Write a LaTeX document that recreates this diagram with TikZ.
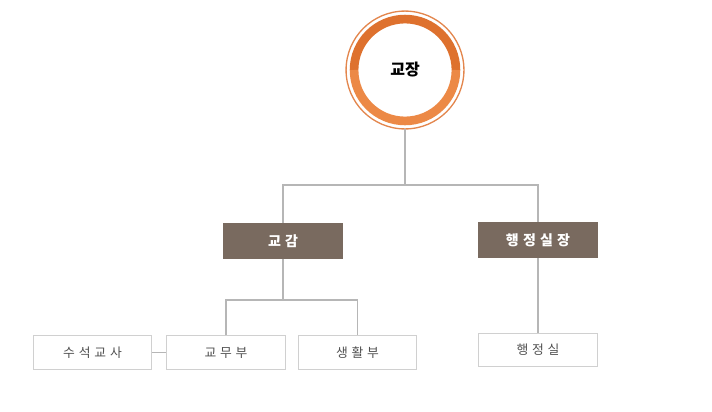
\documentclass[tikz,border=0pt]{standalone}
\usepackage{fontspec}
\newfontfamily\krfont{Noto Sans CJK KR}
\newfontfamily\krspaced[LetterSpace=30]{Noto Sans CJK KR}
\usetikzlibrary{positioning}

\definecolor{ringtop}{RGB}{222,113,46}
\definecolor{ringbot}{RGB}{236,137,70}
\definecolor{boxbrown}{RGB}{121,106,95}
\definecolor{linegray}{RGB}{182,182,182}
\definecolor{boxline}{RGB}{208,208,208}
\definecolor{textgray}{RGB}{80,80,80}

\begin{document}
\begin{tikzpicture}[
  x = 0.75pt, y = -0.75pt,
  conn/.style = {draw=linegray,line width=0.8pt},
  head/.style = {fill=boxbrown,text=white,font=\krspaced\bfseries\fontsize{10.5pt}{12pt}\selectfont,
    minimum width=90pt,minimum height=26.5pt,inner sep=0pt},
  unit/.style = {draw=boxline,line width=0.8pt,fill=white,text=textgray,
    font=\krspaced\fontsize{9.6pt}{11pt}\selectfont,minimum width=89pt,minimum height=25pt,inner sep=0pt}
  ]
  \useasboundingbox (0,0) rectangle (712,411);

  % principal
  \node[circle,minimum size=88.5pt,inner sep=0pt,font=\krfont\bfseries\fontsize{12pt}{14pt}\selectfont] (@gyojang) at (405,70) {교장};
  \draw[ringtop,line width=6.5pt] (@gyojang.center) ++(0:38.2pt) arc[start angle=0,end angle=180,radius=38.2pt];
  \draw[ringbot,line width=6.5pt] (@gyojang.center) ++(180:38.2pt) arc[start angle=180,end angle=360,radius=38.2pt];
  \draw[ringtop!85!white,line width=1pt] (@gyojang.center) circle[radius=44.2pt];

  % second level
  \node[head] (@gyogam) at (283,241) {교감};
  \node[head] (@haengjeongjang) at (538,240) {행정실장};
  \coordinate (@top) at (405,185);

  % third level
  \node[unit] (@suseok) at (92.5,352.5) {수석교사};
  \node[unit] (@gyomu) at (226,352.5) {교무부};
  \node[unit] (@saenghwal) at (357.5,352.5) {생활부};
  \node[unit] (@haengjeong) at (538,350) {행정실};
  \coordinate (@mid) at (283,300);

  \draw[conn] (@gyojang) -- (@top);
  \draw[conn] (@gyogam.north) |- (@top) -| (@haengjeongjang.north);
  \draw[conn] (@gyogam) -- (@mid);
  \draw[conn] (@gyomu.north) |- (@mid) -| (@saenghwal.north);
  \draw[conn] (@suseok) -- (@gyomu);
  \draw[conn] (@haengjeongjang) -- (@haengjeong);
\end{tikzpicture}
\end{document}
